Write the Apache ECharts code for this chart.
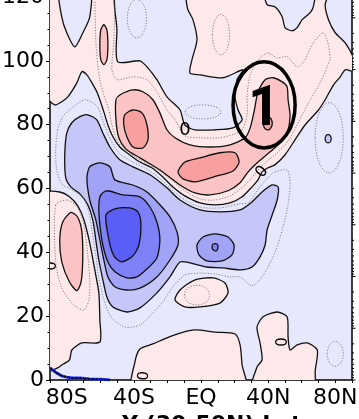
<!DOCTYPE html>
<html><head><meta charset="utf-8">
<script src="https://cdn.jsdelivr.net/npm/echarts@6/dist/echarts.min.js"></script>
<style>html,body{margin:0;padding:0;background:#fff}#c{width:359px;height:419px}</style>
</head><body><div id="c"></div>
<script>
// ---------- axis data ----------
const latTickValues = [-80, -40, 0, 40, 80];
const latTickLabels = ['80S', '40S', 'EQ', '40N', '80N'];
const xAxisTitle = 'Y (30-50N) Lat';
const pressureDecades = [1000, 100, 10, 1, 0.1, 0.01, 0.001, 0.0001, 0.00001];
const pressureMultipliers = [2, 3, 4, 5, 6, 7, 8, 9];
const kmPerDecade = 16.21;

// ---------- contour regions  [lat, km] ----------
const pinkUpper = [[-92,122],[75.8,122],[74,117.6],[76,112.9],[80,108.8],[86,105.6],[92,99.5],[92,96.6],[86,97.2],[83,95],[79,92.5],[74,87.8],[70,84.6],[62,79.9],[56,75.2],[50,70.5],[44,67.4],[40,66.5],[36.4,65.2],[34,62.7],[30.4,60.5],[24.5,57.4],[17.3,55.5],[8.4,54.9],[-0.6,55.5],[-9.6,57.7],[-16.7,60.5],[-22.7,63.6],[-29.3,66.5],[-36.4,68.3],[-42.4,70.5],[-48.4,73],[-52.5,76.2],[-55.5,79.9],[-57.9,84],[-60.3,87.8],[-62.1,90.3],[-65,93.1],[-68,95.6],[-71,96.6],[-74,93.1],[-79.4,88.7],[-83,87.2],[-87.2,86.2],[-92,89]];
const blueTopLeft = [[-84.2,122],[-83,113.8],[-80,108.8],[-75.2,104.4],[-70.4,108.8],[-66.3,113.8],[-66.3,122]];
const blueTopMid = [[-50.1,122],[-50.1,109.7],[-49.6,99.7],[-36.4,100],[-32.2,98.1],[-26.3,94.1],[-20.3,88.7],[-12.5,84.6],[-9.6,79.9],[-3.6,78.4],[8.4,78.4],[19.1,79],[24.5,81.5],[22.1,84.6],[20.3,88.7],[21.5,94.1],[25.1,97.2],[13.1,94.7],[-0.6,95.6],[-6.6,96.2],[-5.4,100.3],[-2.4,106.6],[-4.8,112.9],[-7.8,116],[-11.3,122]];
const blueTopRight = [[38.2,122],[39.4,117.6],[44.2,116.9],[48.4,113.8],[50.1,110.4],[54.3,109.4],[57.3,110.4],[60.3,112.9],[65.1,115.1],[66.9,116.9],[67.5,122]];
const pink2UpperLeft = [[-57.9,111.3],[-56.1,109.7],[-55.5,105],[-56.1,100.3],[-57.9,98.8],[-59.7,100.3],[-60.3,105],[-59.7,109.7]];
const pink2Band = [[-50.7,87.8],[-48.4,89.3],[-40.6,90.9],[-34.6,90.3],[-28.7,87.8],[-24.5,83.7],[-20.3,78.4],[-15.5,75.9],[-6.6,73.7],[5.4,73],[17.3,73.7],[26.3,75.9],[29.3,79],[31.6,84],[34,90.3],[38.2,94.1],[43,94.7],[48.4,93.4],[51.3,91.9],[51.9,87.8],[53.1,82.5],[51.3,77.4],[47.2,74.3],[41.2,71.5],[34,68.3],[28.1,65.2],[23.3,61.8],[16.1,59.3],[5.4,58],[-3.6,58.6],[-12.5,61.1],[-24.5,65.8],[-36.4,69.6],[-44.8,72.4],[-49,75.9],[-50.7,81.5]];
const pink3West = [[-45.4,83.1],[-40.6,84.6],[-35.2,83.7],[-32.2,79.9],[-31.6,75.2],[-34.6,72.7],[-40.6,73],[-44.2,76.2],[-46,79.9]];
const pink3Eq = [[-13.7,65.2],[-9.6,68.3],[-0.6,69.6],[11.3,71.2],[20.3,71.2],[22.7,68.3],[19.1,65.5],[7.2,63.6],[-3.6,62.1],[-10.7,63]];
const pink3North = [[39.4,82.8],[41.8,81.8],[42.4,79.9],[40.6,78.4],[38.2,78.7],[37,80.6],[37.6,82.1]];
const pinkSouth = [[-92,58.6],[-84.2,58.9],[-78.4,57.4],[-73.4,54.5],[-69.8,50.2],[-66.3,42.9],[-63.3,34.5],[-60.9,27.3],[-60.3,18.8],[-60.3,11.9],[-71,11.6],[-77,9.4],[-78.4,6.3],[-83,4.7],[-85.4,3.8],[-92,3]];
const pink2South = [[-77.5,52.5],[-73.5,51],[-71,46.4],[-70.5,37.6],[-71.5,30.7],[-74,28],[-78.4,30.7],[-83,37],[-84.2,43.9],[-82.4,49.5]];
const pinkLowMid = [[-40.6,-2],[-39.4,5.6],[-36.4,9.7],[-28.7,11.3],[-20.3,13.2],[-12.5,14.7],[-3.6,15.7],[8.4,15],[20.3,14.4],[23.3,11],[24.5,4.7],[26.3,-2]];
const pinkEqLow = [[-15.5,25.1],[-12.5,28.2],[-3.6,31.4],[7.2,32],[14.3,30.4],[16.1,27.3],[11.3,24.1],[-0.6,22.9],[-9.6,22.9]];
const pinkNorthLow = [[31,-2],[33.4,4.1],[36.4,6.3],[35.2,11.6],[33.4,16.6],[37,19.8],[45.4,21.3],[51.3,19.8],[51.9,13.5],[53.1,9.4],[57.3,11],[63.3,11.6],[69.3,9.4],[68.1,3.1],[66.9,-2]];
const blue2Main = [[-80,77.4],[-77,80.6],[-72.2,82.5],[-67.5,83.1],[-62.1,81.5],[-58.5,77.4],[-54.3,73],[-48.4,69],[-40.6,66.8],[-30.4,64.3],[-20.3,60.2],[-12.5,56.4],[-0.6,53.3],[11.3,52.7],[23.3,53.3],[30.4,55.8],[36.4,58.9],[42.4,61.1],[46,60.5],[45.4,56.4],[42.4,51.7],[39.4,47],[38.2,42.3],[35.2,38.6],[30.4,35.4],[23.3,34.5],[13.1,35.1],[3.6,35.4],[-6.6,36.7],[-12.5,37],[-18.5,32.3],[-26.3,27.3],[-36.4,22.6],[-44.2,21.3],[-52.5,22.9],[-56.1,26],[-58.5,31.4],[-60.9,37.6],[-62.7,43.9],[-64.5,50.2],[-67.5,54.9],[-72.2,58.3],[-77.6,60.5],[-80.6,63.3],[-81.2,70.5]];
const blue3Main = [[-68,63.3],[-66.3,66.8],[-60.3,68],[-54.3,66.8],[-51.3,62.7],[-40.6,61.1],[-32.2,58.9],[-24.5,54.9],[-18.5,51.1],[-14.3,46.4],[-13.7,42.3],[-18.5,37.6],[-26.3,32.3],[-36.4,28.8],[-44.2,28.2],[-51.3,29.2],[-55.5,32.3],[-57.9,37.6],[-60.3,43.9],[-62.7,50.2],[-66.3,56.4]];
const blue4Main = [[-60.9,54.9],[-59.7,58],[-56.1,59.3],[-46.6,58],[-36.4,57.4],[-30.4,54.2],[-26.3,49.5],[-24.5,43.9],[-26.3,38.2],[-31.6,35.1],[-38.2,32.3],[-44.2,32],[-51.3,33.9],[-55.5,37],[-58.5,42.3],[-60.3,48.6]];
const blue5Core = [[-56.7,51.7],[-51.3,53.6],[-42.4,53.9],[-37.6,52.7],[-35.8,48.6],[-37,42.3],[-40.6,38.9],[-47.2,37],[-51.9,38.9],[-54.9,43.9]];
const blue3Eq = [[-2.4,42.3],[1.2,44.8],[8.4,45.8],[16.1,44.8],[19.7,42.3],[18.5,39.2],[12.5,37.3],[3.6,37.3],[-1.2,39.2]];
const blue4Eq = [[7.2,42.6],[9.6,42.6],[10.1,41.4],[9,40.4],[7.2,40.8],[6.6,41.7]];
const blue2NorthDot = [75.8, 75.6, 1.8, 1.3];

// dotted half-level contours
const dottedEllipses = [[-38.2,113.2,5.7,6],[1.2,84,10.7,2.2],[11.9,108.2,5.1,6.3],[76.4,75.9,8.4,11],[80,8.2,4.8,3.9],[-2.4,26.6,7.5,3.1]];
const dottedSouthPink = [[-86.6,54.9],[-79.4,56.4],[-73.5,54],[-69.8,48.6],[-67.8,40.8],[-66.3,31.4],[-66.8,25.1],[-69.8,21.9],[-75.8,23.5],[-83,28.8],[-86.6,37]];
const dottedPositive = [[-63.3,122],[-62.7,106.6],[-61.5,98.8],[-60.3,94.1],[-57.9,89.3],[-54.9,84.6],[-53.1,79.9],[-50.7,75.9],[-46,72.1],[-36.4,69],[-27.5,66.5],[-18.5,63],[-9.6,59.3],[-0.6,56.7],[8.4,56.4],[17.3,57.7],[26.3,61.1],[32.2,64.6],[38.2,68],[46,71.5],[51.9,74.9],[56.7,79.3],[60.9,83.7],[65.1,87.8],[71,93.1],[75.2,98.1],[77,100.9],[75.2,106.6],[72.8,108.8],[66.9,105.6],[60.9,99.4],[57.3,98.1],[51.3,101.3],[45.4,100.9],[40,102.5],[35.2,100.9],[29.3,95.6],[27.5,89.3],[27.5,83.1],[23.9,78.1],[11.3,75.9],[-0.6,75.9],[-9.6,76.5],[-15.5,81.5],[-20.3,84.6],[-26.3,90.3],[-32.2,94.1],[-40.6,95],[-50.1,94.1],[-53.1,97.2],[-51.9,106.6],[-51.3,122]];
const dottedNegative = [[-85.4,78.4],[-86.6,72.1],[-86,65.8],[-83,61.4],[-77,59.6],[-70.4,57.1],[-66.9,52.7],[-65,47],[-62.7,39.2],[-60.9,32],[-57.9,25.1],[-53.1,19.4],[-45.4,16.6],[-36.4,17.2],[-28.7,21],[-22.7,24.5],[-17.3,28.8],[-9.6,32.9],[-0.6,33.5],[8.4,33.2],[17.3,32.3],[23.3,32.3],[30.4,29.5],[36.4,32.3],[43,38.6],[47.2,44.8],[51.3,53.3],[53.1,61.1],[51.3,65.8],[43,64.9],[35.2,60.5],[28.1,55.5],[23.3,55.2],[11.3,53.9],[-0.6,54.2],[-12.5,57.4],[-20.3,61.1],[-30.4,65.5],[-40.6,68.3],[-48.4,70.9],[-54.3,75.6],[-58.5,81.2],[-62.1,85.9],[-69.2,87.8],[-78.4,84.6],[-82.4,82.5]];

// contour labels [lat, km, rotation deg, size]
const zeroLabels = [[-9.6,78.1,0,18],[36.4,65.2,52,16],[49,11.9,90,15],[-34,1.3,85,15],[-88.8,35.7,90,15]];
// topography
const topoLine = [[-90,3.8],[-88.4,3.1],[-86,2.2],[-83,1.3],[-80,0.9],[-77,0.6],[-72.2,0.6],[-66.3,0.3],[-60,0.2],[-54.3,0]];
// annotation
const annoEllipse = [37.6, 86.2, 18.5, 13.5];
const annoText = [37.6, 84.3, '1'];

// ---------- styles ----------
const C = {b1:'#e7e8fc', b2:'#c5c7f9', b3:'#a1a3f7', b4:'#7d80f6', b5:'#5a5df6', p1:'#fde9e9', p2:'#fbc3c3', p3:'#f8a0a0'};
const SOLID = {stroke:'#111', lw:1.3};
const DOT = {stroke:'#777', lw:0.9, dash:[1.2,1.6]};

const layers = [
  {kind:'poly', pts:pinkUpper, fill:C.p1, ...SOLID},
  {kind:'poly', pts:blueTopLeft, fill:C.b1, ...SOLID},
  {kind:'poly', pts:blueTopMid, fill:C.b1, ...SOLID},
  {kind:'poly', pts:blueTopRight, fill:C.b1, ...SOLID},
  {kind:'poly', pts:pinkSouth, fill:C.p1, ...SOLID},
  {kind:'poly', pts:pinkLowMid, fill:C.p1, ...SOLID},
  {kind:'poly', pts:pinkEqLow, fill:C.p1, ...SOLID},
  {kind:'poly', pts:pinkNorthLow, fill:C.p1, ...SOLID},
  {kind:'poly', pts:pink2UpperLeft, fill:C.p2, ...SOLID},
  {kind:'poly', pts:pink2Band, fill:C.p2, ...SOLID},
  {kind:'poly', pts:pink3West, fill:C.p3, ...SOLID},
  {kind:'poly', pts:pink3Eq, fill:C.p3, ...SOLID},
  {kind:'poly', pts:pink3North, fill:C.p3, ...SOLID},
  {kind:'poly', pts:pink2South, fill:C.p2, ...SOLID},
  {kind:'poly', pts:blue2Main, fill:C.b2, ...SOLID},
  {kind:'poly', pts:blue3Main, fill:C.b3, ...SOLID},
  {kind:'poly', pts:blue4Main, fill:C.b4, ...SOLID},
  {kind:'poly', pts:blue5Core, fill:C.b5, ...SOLID},
  {kind:'poly', pts:blue3Eq, fill:C.b3, ...SOLID},
  {kind:'poly', pts:blue4Eq, fill:C.b4, ...SOLID},
  {kind:'ell', e:blue2NorthDot, fill:C.b2, ...SOLID},
  {kind:'poly', pts:dottedSouthPink, fill:null, ...DOT},
  {kind:'line', pts:dottedPositive, fill:null, ...DOT},
  {kind:'poly', pts:dottedNegative, fill:null, ...DOT},
  ...dottedEllipses.map(e => ({kind:'ell', e, fill:null, ...DOT}))
];

function renderLayer(params, api) {
  const L = layers[params.dataIndex];
  const style = {fill: L.fill || 'none', stroke: L.stroke, lineWidth: L.lw, lineDash: L.dash || null};
  if (L.kind === 'ell') {
    const c = api.coord([L.e[0], L.e[1]]);
    const s = api.size([L.e[2], L.e[3]]);
    return {type:'ellipse', shape:{cx:c[0], cy:c[1], rx:s[0], ry:s[1]}, style};
  }
  const pts = L.pts.map(p => api.coord(p));
  return {type: L.kind === 'line' ? 'polyline' : 'polygon', shape:{points:pts, smooth:0.25}, style};
}

const rightTicks = [];
pressureDecades.forEach(p => {
  const km = kmPerDecade * Math.log10(1000 / p);
  if (km >= 0 && km <= 120) rightTicks.push([90, km, 3.5]);
  pressureMultipliers.forEach(m => {
    const k2 = kmPerDecade * Math.log10(1000 / (p * m));
    if (k2 >= 0 && k2 <= 120) rightTicks.push([90, k2, 2]);
  });
});

const chart = echarts.init(document.getElementById('c'), null, {renderer:'canvas', width:359, height:419});
const axisFont = {fontSize:22, color:'#000', fontFamily:'DejaVu Sans'};
chart.setOption({
  animation:false,
  backgroundColor:'#fff',
  grid:{left:50, right:7, top:-3, bottom:39, show:true, backgroundColor:C.b1, borderWidth:0, outerBoundsMode:'none', containLabel:false},
  graphic:[{type:'text', x:122, y:425, z:100, silent:true,
    style:{text:xAxisTitle, fontSize:22, fontWeight:'bold', fontFamily:'DejaVu Sans', fill:'#000', align:'left', verticalAlign:'middle'}}],
  xAxis:{type:'value', min:-90, max:90, interval:10,
    axisLine:{show:true, onZero:false, lineStyle:{color:'#000', width:1.5}},
    axisTick:{show:true, length:3, lineStyle:{color:'#000', width:1}},
    splitLine:{show:false},
    axisLabel:{...axisFont, margin:7, formatter:v => { const i = latTickValues.indexOf(v); return i >= 0 ? latTickLabels[i] : ''; }}
  },
  yAxis:[
    {type:'value', min:0, max:120, interval:20, position:'left',
      axisLine:{show:true, onZero:false, lineStyle:{color:'#000', width:1.5}},
      axisTick:{show:true, length:4, lineStyle:{color:'#000', width:1}},
      minorTick:{show:true, splitNumber:4, length:2.5, lineStyle:{color:'#000', width:1}},
      splitLine:{show:false}, minorSplitLine:{show:false},
      axisLabel:{...axisFont, margin:6}},
    {type:'value', min:0, max:120, position:'right',
      axisLine:{show:true, onZero:false, lineStyle:{color:'#000', width:1.5}},
      axisTick:{show:false}, axisLabel:{show:false}, splitLine:{show:false}}
  ],
  series:[
    {type:'custom', xAxisIndex:0, yAxisIndex:0, clip:true, silent:true, z:1,
      data: layers.map((l, i) => [0, 60, i]), renderItem: renderLayer},
    {type:'line', xAxisIndex:0, yAxisIndex:0, data:topoLine, symbol:'none', silent:true, z:3,
      lineStyle:{color:'#2233ee', width:3}},
    {type:'line', xAxisIndex:0, yAxisIndex:0, data:topoLine, symbol:'none', silent:true, z:4,
      lineStyle:{color:'#000', width:1.5, type:[3,1]}},
    {type:'custom', xAxisIndex:0, yAxisIndex:0, clip:true, silent:true, z:5,
      data: zeroLabels,
      renderItem:(params, api) => {
        const c = api.coord([api.value(0), api.value(1)]);
        return {type:'text', x:c[0], y:c[1], rotation: api.value(2) * Math.PI / 180,
          style:{text:'0', fontSize: api.value(3), fontFamily:'DejaVu Sans', fill:'#000', align:'center', verticalAlign:'middle'}};
      }},
    {type:'custom', xAxisIndex:0, yAxisIndex:0, clip:false, silent:true, z:6,
      data:[annoEllipse],
      renderItem:(params, api) => {
        const c = api.coord([api.value(0), api.value(1)]);
        const s = api.size([api.value(2), api.value(3)]);
        return {type:'ellipse', shape:{cx:c[0], cy:c[1], rx:s[0], ry:s[1]}, style:{fill:'none', stroke:'#000', lineWidth:3.5}};
      }},
    {type:'custom', xAxisIndex:0, yAxisIndex:0, clip:false, silent:true, z:7,
      data:[annoText],
      renderItem:(params, api) => {
        const c = api.coord([annoText[0], annoText[1]]);
        return {type:'text', x:c[0], y:c[1],
          style:{text:annoText[2], fontSize:56, fontWeight:'bold', fontFamily:'Roboto', fill:'#000', align:'center', verticalAlign:'middle'}};
      }},
    {type:'custom', xAxisIndex:0, yAxisIndex:0, clip:false, silent:true, z:8,
      data:rightTicks,
      renderItem:(params, api) => {
        const c = api.coord([api.value(0), api.value(1)]);
        const len = api.value(2);
        return {type:'line', shape:{x1:c[0], y1:c[1], x2:c[0] + len, y2:c[1]}, style:{stroke:'#000', lineWidth:1}};
      }}
  ]
});
</script></body></html>
